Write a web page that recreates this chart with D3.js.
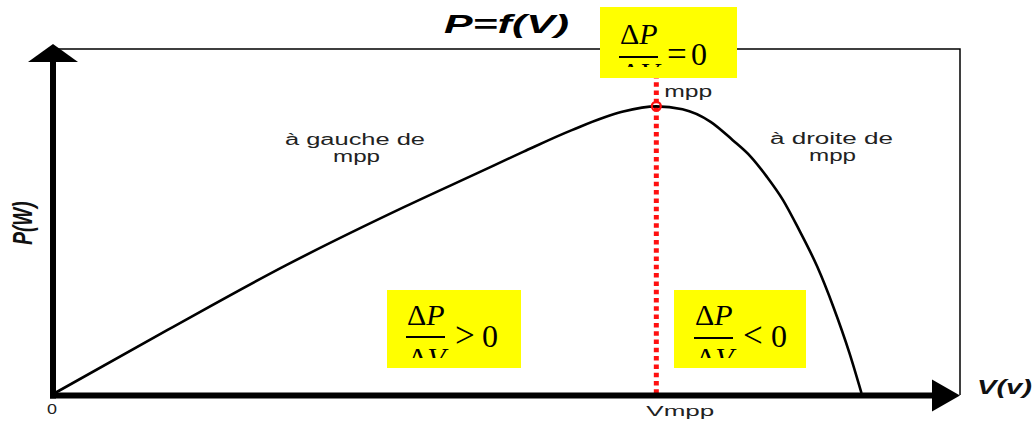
<!DOCTYPE html>
<html><head><meta charset="utf-8">
<script src="https://cdn.jsdelivr.net/npm/d3@7"></script>
<style>html,body{margin:0;padding:0;background:#fff;}svg{display:block;}</style>
</head><body>
<script>
// Data (V in volts, P in watts)
const voltage = [0, 5.6, 11.5, 17.4, 21.0, 23.3, 25.7, 28.2, 29.9, 31.2, 32.6, 33.7, 34.6, 35.4, 36.2, 37.0, 37.9, 38.7, 39.5, 40.1];
const power   = [0, 22.0, 44.6, 65.0, 76.7, 84.2, 91.7, 98.1, 100, 99.0, 94.6, 88.2, 82.4, 75.4, 67.3, 56.9, 44.1, 30.1, 14.0, 0];
const vmpp = 29.9;
const pmpp = 100;
const xTickLabels = ["0", "Vmpp"];
const regionLabels = [["à gauche de", "mpp"], ["à droite de", "mpp"]];
const titleText = "P=f(V)";
const xAxisLabel = "V(v)";
const yAxisLabel = "P(W)";
const eqSigns = ["=", ">", "<"];

const W = 1035, H = 425;
const svg = d3.select("body").append("svg").attr("width", W).attr("height", H);

const x = d3.scaleLinear().domain([0, 45]).range([55, 960]);
const y = d3.scaleLinear().domain([0, 120]).range([393, 49]);

const sans = "'Liberation Sans', Arial, sans-serif";
const serif = "'Liberation Serif', 'Times New Roman', serif";

// thin frame (top and right)
svg.append("path")
  .attr("d", `M${x(0)},${y(120)} H${x(45)} V${y(0)+2}`)
  .attr("fill", "none").attr("stroke", "#000").attr("stroke-width", 1.5);

// red dotted vertical line at Vmpp
svg.append("line")
  .attr("x1", x(vmpp)).attr("x2", x(vmpp))
  .attr("y1", y(120)).attr("y2", y(0) + 1)
  .attr("stroke", "#ff1010").attr("stroke-width", 5)
  .attr("stroke-dasharray", "4.5,3.8");

// curve
const pts = voltage.map((v, i) => [v, power[i]]);
svg.append("path")
  .datum(pts)
  .attr("fill", "none").attr("stroke", "#000").attr("stroke-width", 2.6)
  .attr("stroke-linejoin", "round")
  .attr("d", d3.line().x(d => x(d[0])).y(d => y(d[1])).curve(d3.curveMonotoneX));

// mpp marker
svg.append("circle")
  .attr("cx", x(vmpp)).attr("cy", y(pmpp)).attr("r", 4.5)
  .attr("fill", "none").attr("stroke", "#ff1010").attr("stroke-width", 2.2);

// axes (thick) with arrows
const ox = 53, oy = 395.5;
svg.append("line").attr("x1", ox).attr("x2", ox).attr("y1", oy + 3).attr("y2", 60)
  .attr("stroke", "#000").attr("stroke-width", 6);
svg.append("path").attr("d", `M${ox},44 L${ox+25},62 L${ox-25},62 Z`).attr("fill", "#000");
svg.append("line").attr("x1", ox - 3).attr("x2", 934).attr("y1", oy).attr("y2", oy)
  .attr("stroke", "#000").attr("stroke-width", 6);
svg.append("path").attr("d", `M960,${oy} L932,${oy-16} L932,${oy+16} Z`).attr("fill", "#000");

// helper for horizontally stretched text
function stext(str, x0, yb, size, len, opts = {}) {
  return svg.append("text")
    .attr("x", x0).attr("y", yb)
    .attr("font-family", sans).attr("font-size", size)
    .attr("fill", opts.fill || "#222")
    .attr("font-weight", opts.weight || "normal")
    .attr("font-style", opts.style || "normal")
    .attr("textLength", len).attr("lengthAdjust", "spacingAndGlyphs")
    .text(str);
}

// title
stext(titleText, 444, 33, 26, 125, {weight: "bold", style: "italic", fill: "#000"});
// axis labels
stext(xAxisLabel, 977, 394, 20, 55, {weight: "bold", style: "italic", fill: "#111"});
svg.append("g").attr("transform", "translate(23,223) scale(1.45,1) rotate(-90)")
  .append("text").attr("x", 0).attr("y", 6).attr("text-anchor", "middle")
  .attr("font-family", sans).attr("font-size", 19).attr("font-weight", "bold")
  .attr("font-style", "italic").attr("fill", "#111").text(yAxisLabel);

// tick labels
stext(xTickLabels[0], x(0) - 8, 414, 14, 10);
stext(xTickLabels[1], x(vmpp) - 10, 416, 15, 68);

// region labels
stext(regionLabels[0][0], 285, 145, 16, 140);
stext(regionLabels[0][1], 333, 162, 16, 47);
stext(regionLabels[1][0], 770, 144, 16, 123);
stext(regionLabels[1][1], 809, 161, 16, 47);
// mpp label
stext("mpp", x(vmpp) + 8, 97, 16, 48);

// equation boxes
const boxes = [
  {x: 600, y: 7, w: 137, h: 71, fx: 620, nb: 44, bar: 57, db: 83, clip: 67, sx: 667, sb: 66, zx: 691, zb: 65, sign: eqSigns[0]},
  {x: 387, y: 290, w: 134, h: 78, fx: 407, nb: 325, bar: 337, db: 368, clip: 358, sx: 455, sb: 347, zx: 482, zb: 347, sign: eqSigns[1]},
  {x: 674, y: 290, w: 132, h: 78, fx: 695, nb: 325, bar: 338, db: 368, clip: 358, sx: 743, sb: 347, zx: 771, zb: 347, sign: eqSigns[2]}
];
const defs = svg.append("defs");
boxes.forEach((b, i) => {
  svg.append("rect").attr("x", b.x).attr("y", b.y).attr("width", b.w).attr("height", b.h).attr("fill", "#ffff00");
  defs.append("clipPath").attr("id", "clip" + i)
    .append("rect").attr("x", b.x).attr("y", b.y).attr("width", b.w).attr("height", b.clip - b.y);
  const g = svg.append("g").attr("clip-path", `url(#clip${i})`)
    .attr("font-family", serif).attr("font-size", 30).attr("fill", "#000");
  const num = g.append("text").attr("x", b.fx).attr("y", b.nb);
  num.append("tspan").text("Δ");
  num.append("tspan").attr("font-style", "italic").text("P");
  g.append("line").attr("x1", b.fx - 1).attr("x2", b.fx + 38).attr("y1", b.bar).attr("y2", b.bar)
    .attr("stroke", "#000").attr("stroke-width", 2);
  const den = g.append("text").attr("x", b.fx + 1).attr("y", b.db);
  den.append("tspan").text("Δ");
  den.append("tspan").attr("font-style", "italic").text("V");
  g.append("text").attr("x", b.sx).attr("y", b.sb).attr("font-size", 35).text(b.sign);
  g.append("text").attr("x", b.zx).attr("y", b.zb).attr("font-size", 32).text("0");
});
</script>
</body></html>
